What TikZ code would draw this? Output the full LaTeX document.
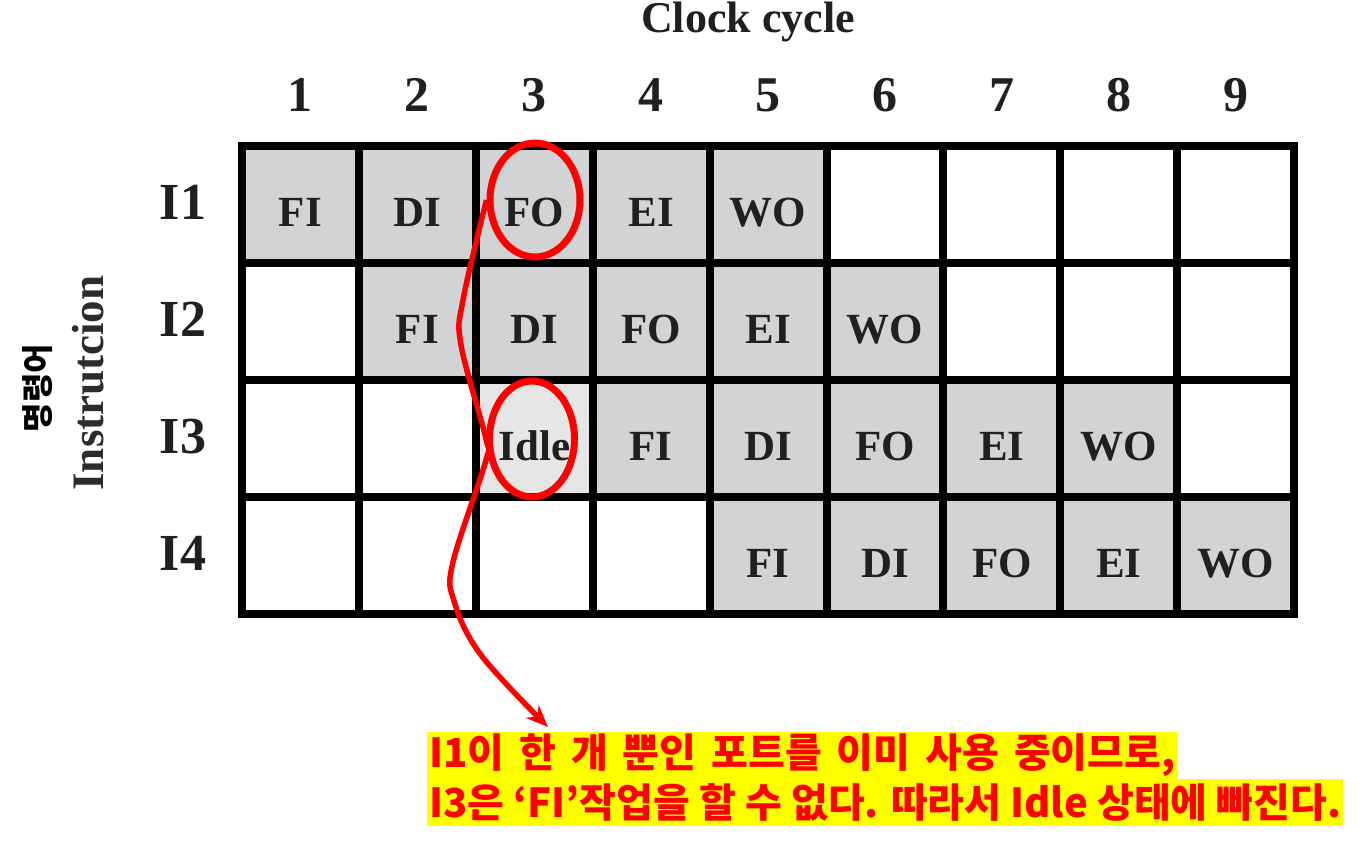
\documentclass[tikz,border=0pt]{standalone}
\usepackage{fontspec}
\setmainfont{Liberation Serif}
\newfontfamily\kr{Noto Sans CJK KR}
\usetikzlibrary{arrows.meta,shapes.geometric}
\definecolor{cellgray}{HTML}{D2D3D5}
\definecolor{idlegray}{HTML}{E6E6E6}
\definecolor{ink}{HTML}{231F20}
\definecolor{inkgray}{HTML}{2F2B2B}
\definecolor{hlred}{HTML}{FF0000}
\definecolor{hlyellow}{HTML}{FFFF00}
\begin{document}
\begin{tikzpicture}[x=1pt,y=-1pt,
  cell/.style={draw=black, line width=8pt, minimum width=116.9pt, minimum height=117pt,
    inner sep=0pt, text height=44pt, text depth=0pt,
    font=\fontsize{43}{43}\selectfont\bfseries, text=ink},
  busy/.style={cell, fill=cellgray},
  idle/.style={cell, fill=idlegray},
  free/.style={cell, fill=white},
  num/.style={font=\fontsize{50}{50}\selectfont\bfseries, text=ink, inner sep=0pt},
  ilabel/.style={font=\fontsize{52}{52}\selectfont\bfseries, text=ink, inner sep=0pt},
  ring/.style={draw=hlred, line width=7pt, ellipse, inner sep=0pt},
  curve/.style={draw=hlred, line width=5.5pt, -{Stealth[length=22pt,width=18pt]}},
  note/.style={fill=hlyellow, text=hlred, font=\kr\bfseries\fontsize{40}{40}\selectfont,
    inner xsep=2pt, inner ysep=0pt, minimum height=47pt, anchor=west}
]
\useasboundingbox (0,0) rectangle (1367,850);

\node[font=\fontsize{44}{44}\selectfont\bfseries, text=ink, inner sep=0pt] (title) at (748,22) {Clock cycle};

\foreach \c in {1,...,9}
  \node[num] (n\c) at ({242+116.9*(\c-0.5)},95) {\c};

\foreach \r in {1,...,4}
  \node[ilabel] (i\r) at (183,{146+117*(\r-0.5)-2}) {I\r};

\node[rotate=90, font=\fontsize{45}{45}\selectfont\bfseries, text=inkgray, inner sep=0pt] (instr) at (88,383) {Instrutcion};
\node[rotate=90, font=\kr\bfseries\fontsize{32}{32}\selectfont, text=black, inner sep=0pt] (kinstr) at (38,388) {명령어};

\foreach \c/\t/\s in {1/FI/busy,2/DI/busy,3/FO/busy,4/EI/busy,5/WO/busy,6//free,7//free,8//free,9//free}
  \node[\s] (c1\c) at ({242+116.9*(\c-0.5)},{146+117*0.5}) {\t};
\foreach \c/\t/\s in {1//free,2/FI/busy,3/DI/busy,4/FO/busy,5/EI/busy,6/WO/busy,7//free,8//free,9//free}
  \node[\s] (c2\c) at ({242+116.9*(\c-0.5)},{146+117*1.5}) {\t};
\foreach \c/\t/\s in {1//free,2//free,3/Idle/idle,4/FI/busy,5/DI/busy,6/FO/busy,7/EI/busy,8/WO/busy,9//free}
  \node[\s] (c3\c) at ({242+116.9*(\c-0.5)},{146+117*2.5}) {\t};
\foreach \c/\t/\s in {1//free,2//free,3//free,4//free,5/FI/busy,6/DI/busy,7/FO/busy,8/EI/busy,9/WO/busy}
  \node[\s] (c4\c) at ({242+116.9*(\c-0.5)},{146+117*3.5}) {\t};

\node[ring, minimum width=90pt, minimum height=114pt] (ringfo) at (535,200) {};
\node[ring, minimum width=85pt, minimum height=116pt] (ringidle) at (532,439) {};

\node[note] (l2) at (427,802) {I3은 ‘FI’작업을 할 수 없다. 따라서 Idle 상태에 빠진다.};
\node[note] (l1) at (427,755) {\spaceskip=15pt I1이 한 개 뿐인 포트를 이미 사용 중이므로,};

\coordinate (tip) at (548,727);
\draw[curve] plot[smooth, tension=0.6] coordinates {(ringfo.west) (463,300) (461,345) (ringidle.west) (486,460) (453,562) (454,601) (481,655) (tip)};
\end{tikzpicture}
\end{document}
